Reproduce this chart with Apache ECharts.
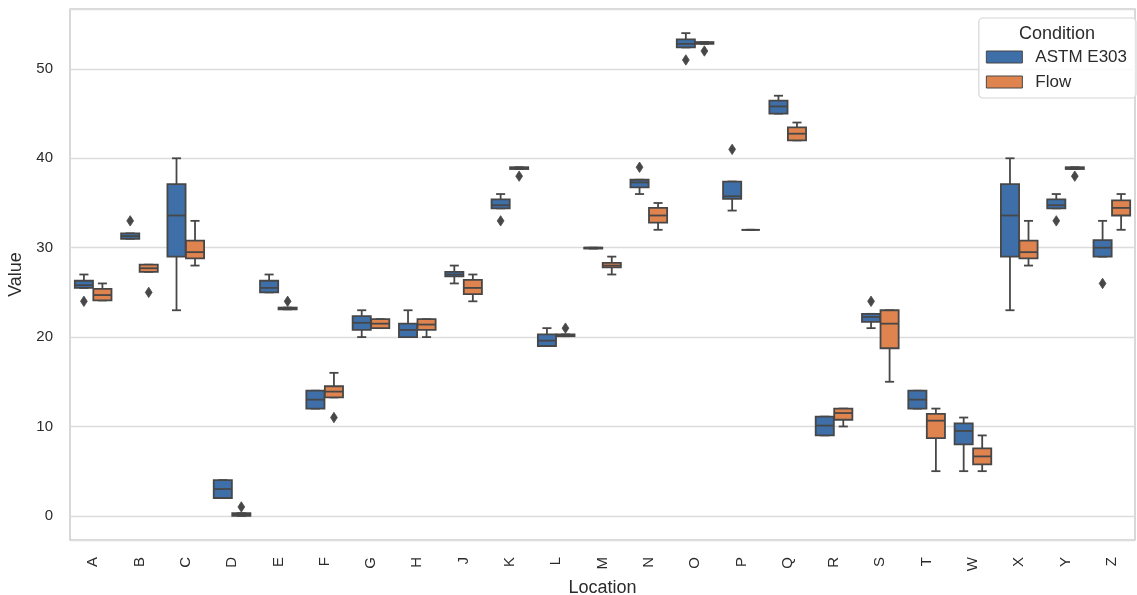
<!DOCTYPE html>
<html>
<head>
<meta charset="utf-8">
<script src="https://cdn.jsdelivr.net/npm/echarts@6/dist/echarts.min.js"></script>
<style>
html,body{margin:0;padding:0;background:#fff;}
#chart{width:1137px;height:595px;}
</style>
</head>
<body>
<div id="chart"></div>
<script>
// ---- data ----
const categories = ['A','B','C','D','E','F','G','H','J','K','L','M','N','O','P','Q','R','S','T','W','X','Y','Z'];
const conditions = ['ASTM E303', 'Flow'];
// [min, q1, median, q3, max]
const astmStats = [
  [25.5, 25.5, 25.8, 26.3, 27],
  [31.0, 31.0, 31.3, 31.6, 31.6],
  [23, 29, 33.6, 37.1, 40],
  [2, 2, 3, 4, 4],
  [25, 25, 25.5, 26.3, 27],
  [12, 12, 13, 14, 14],
  [20, 20.8, 21.6, 22.35, 23],
  [20, 20, 20.8, 21.5, 23],
  [26, 26.8, 27, 27.3, 28],
  [34.4, 34.4, 34.75, 35.4, 36],
  [19, 19, 19.6, 20.3, 21],
  [29.9, 29.9, 30, 30, 30],
  [36, 36.75, 37.3, 37.6, 37.6],
  [52.4, 52.4, 52.8, 53.3, 54],
  [34.15, 35.45, 35.75, 37.4, 37.4],
  [45, 45, 45.8, 46.45, 47],
  [9, 9, 10.1, 11.1, 11.1],
  [21, 21.7, 22.25, 22.6, 22.6],
  [12, 12, 13, 14, 14],
  [5, 8, 9.5, 10.35, 11],
  [23, 29, 33.6, 37.1, 40],
  [34.4, 34.4, 34.75, 35.4, 36],
  [29, 29, 30, 30.85, 33]
];
const flowStats = [
  [24.1, 24.1, 24.7, 25.4, 26],
  [27.3, 27.3, 27.7, 28.1, 28.1],
  [28, 28.8, 29.5, 30.8, 33],
  [0, 0, 0.2, 0.3, 0.3],
  [23.1, 23.1, 23.2, 23.3, 23.3],
  [13.25, 13.25, 13.9, 14.5, 16],
  [21, 21, 21.5, 22, 22],
  [20, 20.8, 21.4, 22, 22],
  [24, 24.8, 25.5, 26.4, 27],
  [38.8, 38.8, 38.9, 39, 39],
  [20.1, 20.1, 20.2, 20.3, 20.3],
  [27, 27.8, 28, 28.3, 29],
  [32, 32.8, 33.6, 34.45, 35],
  [52.8, 52.8, 52.9, 53, 53],
  [32, 32, 32, 32, 32],
  [42, 42, 42.75, 43.45, 44],
  [10, 10.75, 11.5, 12, 12],
  [15, 18.75, 21.5, 23, 23],
  [5, 8.7, 10.65, 11.4, 12],
  [5, 5.75, 6.65, 7.55, 9],
  [28, 28.8, 29.5, 30.8, 33],
  [38.8, 38.8, 38.9, 39, 39],
  [32, 33.6, 34.45, 35.3, 36]
];
// [category, value]
const astmOutliers = [['A',24],['B',33],['K',33],['N',39],['O',51],['P',41],['S',24],['Y',33],['Z',26]];
const flowOutliers = [['B',25],['D',1],['E',24],['F',11],['K',38],['L',21],['O',52],['Y',38]];
const yTicks = [0, 10, 20, 30, 40, 50];

// ---- style ----
const BLUE = '#3e6fa8';
const ORANGE = '#e0844f';
const GRAY = '#474747';
const LW = 1.8;
const FONT = '"Liberation Sans", Arial, sans-serif';

function boxRenderer(offset, color) {
  return function (params, api) {
    const i = api.value(0);
    const band = api.size([1, 0])[0];
    const cx = api.coord([i, 0])[0] + offset * band;
    const w = band * 0.392;
    const cap = w / 4;
    const y = k => api.coord([i, api.value(k)])[1];
    const yMin = y(1), yQ1 = y(2), yMed = y(3), yQ3 = y(4), yMax = y(5);
    const ls = {stroke: GRAY, lineWidth: LW, fill: null};
    return {
      type: 'group',
      children: [
        {type: 'line', shape: {x1: cx, y1: yQ3, x2: cx, y2: yMax}, style: ls},
        {type: 'line', shape: {x1: cx, y1: yQ1, x2: cx, y2: yMin}, style: ls},
        {type: 'line', shape: {x1: cx - cap, y1: yMax, x2: cx + cap, y2: yMax}, style: ls},
        {type: 'line', shape: {x1: cx - cap, y1: yMin, x2: cx + cap, y2: yMin}, style: ls},
        {type: 'rect', shape: {x: cx - w / 2, y: yQ3, width: w, height: yQ1 - yQ3},
          style: {fill: color, stroke: GRAY, lineWidth: LW}},
        {type: 'line', shape: {x1: cx - w / 2, y1: yMed, x2: cx + w / 2, y2: yMed}, style: ls}
      ]
    };
  };
}

function outlierRenderer(offset) {
  return function (params, api) {
    const i = api.value(0);
    const band = api.size([1, 0])[0];
    const p = api.coord([i, api.value(1)]);
    const cx = p[0] + offset * band, cy = p[1];
    const hw = 3.4, hh = 5.2;
    return {
      type: 'polygon',
      shape: {points: [[cx, cy - hh], [cx + hw, cy], [cx, cy + hh], [cx - hw, cy]]},
      style: {fill: GRAY, stroke: GRAY, lineWidth: 0.8}
    };
  };
}

const chart = echarts.init(document.getElementById('chart'), null, {renderer: 'canvas'});
const option = {
  animation: false,
  backgroundColor: '#ffffff',
  textStyle: {fontFamily: FONT},
  grid: {
    left: 70, right: 2, top: 9, bottom: 55,
    containLabel: false, outerBoundsMode: 'none',
    show: true, borderColor: '#cfcfcf', borderWidth: 1.6
  },
  xAxis: {
    type: 'category',
    data: categories,
    name: 'Location',
    nameLocation: 'middle',
    nameGap: 39,
    nameTextStyle: {fontSize: 18, color: '#2b2b2b', fontFamily: FONT},
    axisLine: {show: false},
    axisTick: {show: false},
    axisLabel: {rotate: 90, fontSize: 15, color: '#2b2b2b', margin: 17, fontFamily: FONT},
    splitLine: {show: false}
  },
  yAxis: {
    type: 'value',
    min: -2.7,
    max: 56.7,
    splitNumber: 5,
    name: 'Value',
    nameLocation: 'middle',
    nameGap: 45,
    nameTextStyle: {fontSize: 18, color: '#2b2b2b', fontFamily: FONT},
    axisLine: {show: false},
    axisTick: {show: false},
    axisLabel: {
      fontSize: 15, color: '#2b2b2b', margin: 17, fontFamily: FONT,
      showMinLabel: false, showMaxLabel: false,
      formatter: v => (yTicks.indexOf(v) >= 0 ? String(v) : '')
    },
    splitLine: {show: true, lineStyle: {color: '#dcdcdc', width: 1.3}}
  },
  legend: {
    data: conditions,
    orient: 'vertical',
    right: 1,
    top: 18,
    icon: 'rect',
    itemWidth: 36,
    itemHeight: 12,
    itemGap: 7,
    padding: [30, 9, 7, 7],
    backgroundColor: 'rgba(255,255,255,0.85)',
    borderColor: '#d6d6d6',
    borderWidth: 1.2,
    borderRadius: 4,
    itemStyle: {borderColor: GRAY, borderWidth: 1},
    textStyle: {fontSize: 17, color: '#2b2b2b', fontFamily: FONT, padding: [0, 0, 0, 8], lineHeight: 18},
    z: 10
  },
  graphic: [{
    type: 'text',
    right: 42,
    top: 25,
    z: 100,
    style: {text: 'Condition', fontSize: 18, fill: '#2b2b2b', fontFamily: FONT}
  }],
  series: [
    {
      name: conditions[0],
      type: 'custom',
      renderItem: boxRenderer(-0.2, BLUE),
      itemStyle: {color: BLUE},
      encode: {x: 0, y: [1, 2, 3, 4, 5]},
      data: astmStats.map((s, i) => [i].concat(s)),
      z: 3
    },
    {
      name: conditions[1],
      type: 'custom',
      renderItem: boxRenderer(0.2, ORANGE),
      itemStyle: {color: ORANGE},
      encode: {x: 0, y: [1, 2, 3, 4, 5]},
      data: flowStats.map((s, i) => [i].concat(s)),
      z: 3
    },
    {
      name: 'astm-outliers',
      type: 'custom',
      renderItem: outlierRenderer(-0.2),
      encode: {x: 0, y: 1},
      data: astmOutliers.map(o => [categories.indexOf(o[0]), o[1]]),
      z: 4
    },
    {
      name: 'flow-outliers',
      type: 'custom',
      renderItem: outlierRenderer(0.2),
      encode: {x: 0, y: 1},
      data: flowOutliers.map(o => [categories.indexOf(o[0]), o[1]]),
      z: 4
    }
  ]
};
chart.setOption(option);
</script>
</body>
</html>
